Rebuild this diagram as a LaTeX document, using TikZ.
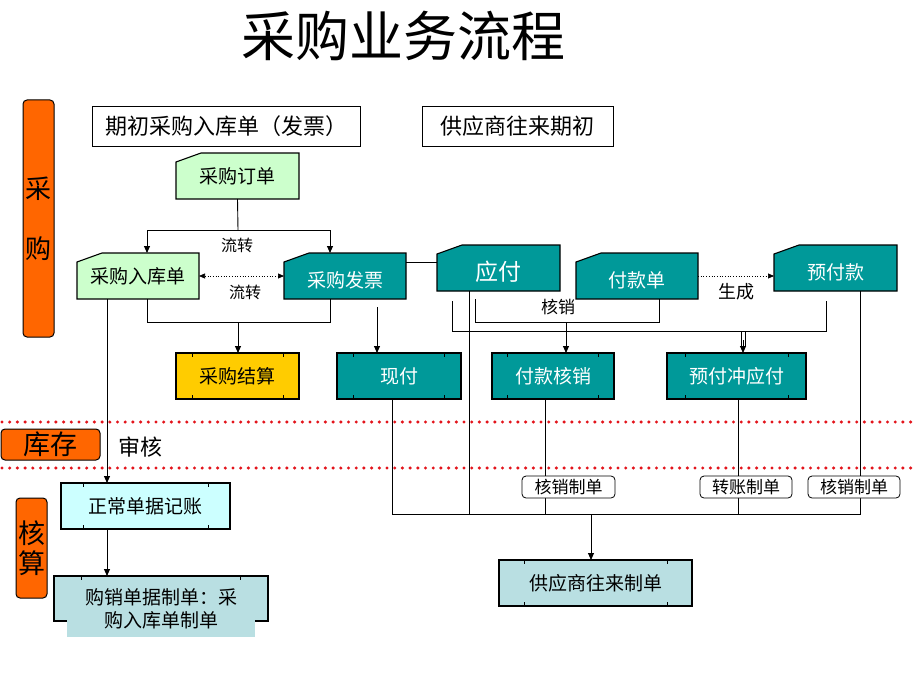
\documentclass[tikz,border=0pt]{standalone}
\usepackage{fontspec}
\setmainfont{Noto Sans CJK SC}
\usetikzlibrary{arrows.meta,backgrounds,calc}
\definecolor{tealc}{HTML}{009999}
\definecolor{lgreen}{HTML}{CCFFCC}
\definecolor{lcyan}{HTML}{CCFFFF}
\definecolor{lblue}{HTML}{B9DFE2}
\definecolor{goldc}{HTML}{FFCC00}
\definecolor{orng}{HTML}{FF6600}
\definecolor{dotred}{HTML}{E3141B}
\tikzset{
  fs/.style={font=\fontsize{#1}{#1}\selectfont},
  sz/.style args={#1x#2}{minimum width=#1pt,minimum height=#2pt},
  base/.style={inner sep=0pt,outer sep=0pt},
  cardn/.style={base,fs=19},
  procn/.style={base,draw=black,line width=1.1pt,fs=19},
  darkt/.style={text=white},
  lowtext/.style={text height=#1, text depth=2.3pt},
  smallbox/.style={base,draw=black,line width=0.8pt,fill=white,rounded corners=4pt,fs=17},
  labelbox/.style={base,draw=black,line width=1pt,fill=orng,rounded corners=4pt},
  conn/.style={line width=0.9pt,draw=black},
  arr/.style={conn,-{Triangle[length=7pt,width=6pt]}},
  dotarr/.style={line width=0.7pt,dotted},
  reddots/.style={draw=dotred,line width=3.4pt,line cap=round,dash pattern=on 0pt off 7.7pt},
  tk/.style={line width=0.8pt,draw=black}
}
\begin{document}
\begin{tikzpicture}[x=1pt,y=-1pt]
\useasboundingbox (0,0) rectangle (920,690);
\begin{scope}[on background layer]
\fill[white] (0,0) rectangle (920,690);
\end{scope}

% title
\node[fs=54] (title) at (403,36) {采购业务流程};

% red dotted separators
\draw[reddots] (2,422) -- (918,422);
\draw[reddots] (2,468) -- (918,468);

% side labels
\node[labelbox,sz=31x237,align=center,font=\fontsize{26}{60}\selectfont] (cg) at (38.5,218.5) {采\\购};
\node[labelbox,sz=99x31,fs=27] (kc) at (50.5,444.5) {库存};
\node[labelbox,sz=31x100,align=center,font=\fontsize{27}{30}\selectfont] (hs) at (31.5,548) {核\\算};
\node[fs=22] (sh) at (140,447) {审核};

% top initial boxes
\node[base,draw=black,line width=1pt,sz=268x39,fs=22] (pq) at (226,126.5) {期初采购入库单（发票）};
\node[base,draw=black,line width=1pt,sz=191x39,fs=22] (gq) at (517.5,126.5) {供应商往来期初};

% card nodes
\node[cardn,sz=123x46] (dd) at (237.5,176) {采购订单};
\node[cardn,sz=122x46] (rk) at (138,276) {采购入库单};
\node[cardn,darkt,sz=122x46,lowtext=24.7pt] (fp) at (345,276) {采购发票};
\node[cardn,darkt,sz=123x46,fs=23,lowtext=28.2pt] (yf) at (498.5,268) {应付};
\node[cardn,darkt,sz=122x46,lowtext=24.7pt] (fkd) at (637,276) {付款单};
\node[cardn,darkt,sz=123x46,lowtext=24.7pt] (yfk) at (835.5,268) {预付款};

\begin{scope}[on background layer]
\foreach \n/\c in {dd/lgreen,rk/lgreen,fp/tealc,yf/tealc,fkd/tealc,yfk/tealc}
  \draw[line width=1.1pt,fill=\c] ([yshift=-9pt]\n.north west) -- ([xshift=25pt]\n.north west) -- (\n.north east) -- (\n.south east) -- (\n.south west) -- cycle;
\end{scope}

% process nodes
\node[procn,fill=goldc,sz=123x46] (js) at (237.5,376) {采购结算};
\node[procn,fill=tealc,darkt,sz=124x46] (xf) at (399,376) {现付};
\node[procn,fill=tealc,darkt,sz=122x46] (fkhx) at (553,376) {付款核销};
\node[procn,fill=tealc,darkt,sz=139x46] (yfc) at (736.5,376) {预付冲应付};
\node[procn,fill=lcyan,sz=169x46] (zc) at (145.5,506) {正常单据记账};
\node[procn,fill=lblue,sz=193x46] (gys) at (595.5,583) {供应商往来制单};
\node[base,sz=214x45,label={[fs=19,align=center,font=\fontsize{19}{23}\selectfont,yshift=-10.5pt]center:购销单据制单：采\\购入库单制单}] (gx) at (161,598.5) {};
\begin{scope}[on background layer]
  \draw[line width=1.1pt,fill=lblue] (gx.north west) rectangle (gx.south east);
  \fill[lblue] ([xshift=13pt,yshift=1pt]gx.south west) rectangle ([xshift=-13pt,yshift=-16pt]gx.south east);
\end{scope}

% ticks
\foreach \n in {js,xf,fkhx,yfc,zc,gys}
  \foreach \t in {0.13,0.87} {
    \draw[tk] ($(\n.north west)!\t!(\n.north east)$) -- ++(0,4);
    \draw[tk] ($(\n.south west)!\t!(\n.south east)$) -- ++(0,-4);
  }
\foreach \t in {0.13,0.87}
  \draw[tk] ($(gx.north west)!\t!(gx.north east)$) -- ++(0,4);

% --- connectors: purchase part
\coordinate (b1) at (238,230);
\coordinate (b1l) at (147,230);
\coordinate (b1r) at (330,230);
\draw[conn] (dd.south) -- (b1);
\draw[arr] (b1) -- (b1l) -- (b1l |- rk.north);
\draw[arr] (b1) -- (b1r) -- (b1r |- fp.north);
\node[fs=16] (lz1) at (237,245) {流转};

\draw[dotarr,{Triangle[length=6pt,width=5pt]}-{Triangle[length=6pt,width=5pt]}] (rk.east) -- (fp.west);
\node[fs=16] (lz2) at (245,292) {流转};

\coordinate (b2l) at (147,322);
\coordinate (b2r) at (330,322);
\coordinate (b2m) at (238,322);
\draw[conn] (b2l |- rk.south) -- (b2l) -- (b2r) -- (b2r |- fp.south);
\draw[arr] (b2m) -- (b2m |- js.north);

\coordinate (v1) at (107,300);
\draw[arr] (v1 |- rk.south) -- (v1 |- zc.north);
\draw[arr] (v1 |- zc.south) -- (v1 |- gx.north);

% invoice to payable
\coordinate (h1) at (420,262);
\draw[conn] (h1 -| fp.east) -- (h1 -| yf.west);

% cash payment
\coordinate (c1) at (377,307);
\draw[arr] (c1) -- (c1 |- xf.north);

% write-off bracket
\coordinate (k1) at (475,299);
\coordinate (k2) at (475,322);
\coordinate (k3) at (659,322);
\coordinate (km) at (566,322);
\draw[conn] (k1) -- (k2) -- (k3) -- (k3 |- fkd.south);
\draw[arr] (km) -- (km |- fkhx.north);
\node[fs=17] (hx) at (558,307) {核销};

% outer bracket
\coordinate (o1) at (452,301);
\coordinate (o2) at (452,331);
\coordinate (o3) at (826,331);
\coordinate (o4) at (826,301);
\draw[conn] (o1) -- (o2) -- (o3) -- (o4);
\draw[conn] (741,331) -- (741 ,347);
\draw[conn] (745,331) -- (745 ,347);
\coordinate (om) at (743,340);
\draw[arr] (om) -- (om |- yfc.north);

% generate
\draw[dotarr,-{Triangle[length=6pt,width=5pt]}] (fkd.east) -- (fkd.east -| yfk.west);
\node[fs=18] (sc) at (736,292) {生成};

% lines down to bus
\coordinate (bus1) at (392,514);
\coordinate (bus2) at (860,514);
\coordinate (busm) at (591,514);
\draw[conn] (bus1 |- xf.south) -- (bus1) -- (bus2) -- (bus2 |- yfk.south);
\draw[conn] (469,514) -- (469,291);
\draw[conn] (545,514) -- (545 ,399);
\draw[conn] (738,514) -- (738 ,399);
\draw[arr] (busm) -- (busm |- gys.north);

% small voucher boxes
\node[smallbox,sz=93x22] (hxz1) at (568.5,487) {核销制单};
\node[smallbox,sz=92x22] (zzz) at (746,487) {转账制单};
\node[smallbox,sz=92x22] (hxz2) at (854,487) {核销制单};
\end{tikzpicture}
\end{document}
